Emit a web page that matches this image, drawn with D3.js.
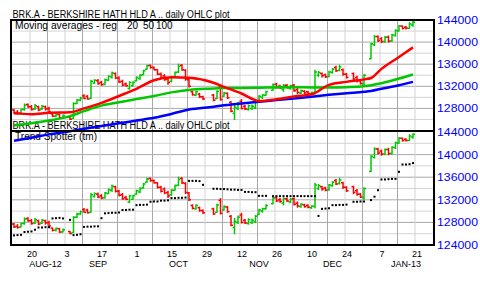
<!DOCTYPE html>
<html>
<head>
<meta charset="utf-8">
<script src="https://cdn.jsdelivr.net/npm/d3@7"></script>
<style>
    body { margin: 0; background: #fff; }
    text { font-family: "Liberation Sans", Arial, sans-serif; }
</style>
</head>
<body>
<svg id="chart" width="480" height="282"></svg>
<script>
// trading days shown (weekday axis, holidays left empty)
const dates = [
    "2012-08-13","2012-08-14","2012-08-15","2012-08-16","2012-08-17","2012-08-20","2012-08-21","2012-08-22","2012-08-23","2012-08-24",
    "2012-08-27","2012-08-28","2012-08-29","2012-08-30","2012-08-31","2012-09-04","2012-09-05","2012-09-06","2012-09-07","2012-09-10",
    "2012-09-11","2012-09-12","2012-09-13","2012-09-14","2012-09-17","2012-09-18","2012-09-19","2012-09-20","2012-09-21","2012-09-24",
    "2012-09-25","2012-09-26","2012-09-27","2012-09-28","2012-10-01","2012-10-02","2012-10-03","2012-10-04","2012-10-05","2012-10-08",
    "2012-10-09","2012-10-10","2012-10-11","2012-10-12","2012-10-15","2012-10-16","2012-10-17","2012-10-18","2012-10-19","2012-10-22",
    "2012-10-23","2012-10-24","2012-10-25","2012-10-26","2012-10-31","2012-11-01","2012-11-02","2012-11-05","2012-11-06","2012-11-07",
    "2012-11-08","2012-11-09","2012-11-12","2012-11-13","2012-11-14","2012-11-15","2012-11-16","2012-11-19","2012-11-20","2012-11-21",
    "2012-11-23","2012-11-26","2012-11-27","2012-11-28","2012-11-29","2012-11-30","2012-12-03","2012-12-04","2012-12-05","2012-12-06",
    "2012-12-07","2012-12-10","2012-12-11","2012-12-12","2012-12-13","2012-12-14","2012-12-17","2012-12-18","2012-12-19","2012-12-20",
    "2012-12-21","2012-12-24","2012-12-26","2012-12-27","2012-12-28","2012-12-31","2013-01-02","2013-01-03","2013-01-04","2013-01-07",
    "2013-01-08","2013-01-09","2013-01-10","2013-01-11","2013-01-14","2013-01-15","2013-01-16","2013-01-17","2013-01-18"
];
const opens = [
    127700,127300,127200,127800,128700,128300,127900,128300,127900,128300,
    128000,127000,126600,126900,126300,126400,126200,128900,129500,130300,
    130200,129800,132600,133000,132700,132400,133100,133700,134300,133500,
    132900,132400,131600,132100,133000,133400,134100,135100,135800,135400,
    135000,134200,133900,133300,132900,133700,134600,135800,134900,133200,
    131000,130400,130600,130100,130400,129800,131900,130200,130700,129100,
    127100,128000,129300,128400,127800,128000,128100,129400,130000,130400,
    131300,132400,132000,131400,132200,131600,132200,131400,130800,131100,
    131000,130600,130800,134000,134300,134100,133800,134500,135400,134900,
    135000,134200,134300,133600,133000,132400,137000,139500,141000,140600,
    140100,140900,140200,141200,142000,142900,142700,142500,143100
];
const highs = [
    127900,127700,127900,128900,128900,128600,128800,128500,128600,128500,
    128300,127100,127100,127000,126900,126500,129100,129700,130100,130550,
    130400,133200,133300,133300,133000,133400,134000,134700,134500,133800,
    133200,132700,132900,132900,133800,134200,135000,135900,135900,135600,
    135100,134500,134200,133600,133900,134700,136100,136000,135100,133400,
    131200,131200,130800,130300,130600,131300,132300,131000,130900,129300,
    128800,129200,129700,128600,128700,128700,129300,130400,130600,131200,
    132500,132600,132300,132400,132400,132300,132400,131700,131400,131300,
    131200,131000,135000,134800,134500,134300,134800,135300,135700,135900,
    135200,134400,134500,133900,133200,134200,139900,141300,141200,140900,
    141100,141200,141500,142300,143100,143000,142900,143600,143800
];
const lows = [
    127000,126900,127100,127600,128100,127600,127700,127500,127700,127600,
    127200,126400,126400,126100,126200,125900,126100,128800,129300,129700,
    129600,129700,132400,132300,132100,132200,133000,133400,133300,132600,
    132000,131900,131400,132000,132900,133200,134000,135000,135200,134900,
    134000,133300,133000,132300,132700,133600,134400,134800,133000,131800,
    130300,130300,129900,129500,129300,129700,129400,130100,129700,127300,
    125900,127700,127800,127700,127600,127700,127900,129300,129700,130300,
    131200,131600,131500,131000,131600,131400,131000,130600,130600,130600,
    130500,130400,130500,133700,133600,133500,133600,134300,134600,134700,
    133900,133400,133000,132700,132300,132000,136900,139300,140000,139800,
    139900,139900,140000,141000,141900,142300,142300,142400,142800
];
const closes = [
    127200,127100,127800,128600,128300,127800,128500,127700,128400,127900,
    127400,126600,126900,126300,126700,126050,128900,129500,129900,129800,
    129700,132900,133100,132500,132300,133200,133800,134400,133500,132800,
    132200,132100,132700,132700,133600,134000,134800,135700,135400,135000,
    134200,133500,133200,132700,133700,134500,135600,135000,133300,132000,
    130500,131000,130100,129700,129500,131100,129600,130800,129900,127500,
    128200,128900,128000,127900,128500,128400,129100,130200,130400,131000,
    132300,131800,131700,132200,131800,132100,131200,130900,131200,130800,
    130700,130900,134600,134500,133900,133700,134600,135100,134800,135500,
    134200,133600,133300,133000,132500,134000,139700,141000,140300,140100,
    140900,140200,141300,142100,142900,142500,142500,143300,143600
];
// Trend Spotter dots, one per trading day
const trendSpotter = [
    125700,125750,125800,126300,126350,126400,126700,127100,127100,127150,
    127150,128700,128750,128800,128700,128450,125750,125800,125900,127200,
    127250,127250,127300,127300,128750,129600,129650,129700,129700,129750,
    130200,130200,130250,130250,131050,131100,131100,131150,131650,131700,
    131700,131850,131850,131900,132300,132300,132350,132350,132400,135350,
    135350,135350,135300,134650,133950,133950,133900,133900,133850,133800,
    133800,133750,133750,133400,133400,133350,133350,132700,132700,132700,
    132650,132650,132650,132650,132650,132650,132650,132650,132650,132650,
    132650,132650,132650,129150,130400,130450,130500,131050,131050,131100,
    131100,131150,131650,131650,131700,131700,131950,132550,133700,135600,
    135600,135650,135700,135700,136950,138250,138250,138300,138500
];
// moving averages
const maDates = [
    "2012-08-13","2012-08-20","2012-08-27","2012-09-04","2012-09-10","2012-09-17","2012-09-24","2012-10-01",
    "2012-10-08","2012-10-15","2012-10-22","2012-10-31","2012-11-05","2012-11-12","2012-11-19","2012-11-26",
    "2012-12-03","2012-12-10","2012-12-17","2012-12-24","2012-12-31","2013-01-02","2013-01-07","2013-01-14","2013-01-18"
];
const ma20 = [127100,126950,127200,127300,128000,129000,130250,131550,133100,133650,133550,132650,131900,130700,129350,129650,130150,130550,132250,132800,133250,133500,135150,137300,139050];
const ma50 = [124900,125300,125800,126600,127500,128500,129100,129700,130250,130900,131350,131600,131700,131700,131750,131800,131850,131800,131800,131850,132000,132200,132550,133400,134150];
const ma100 = [122150,122700,123300,123850,124300,124800,125300,125800,126300,127000,127800,128300,128550,128900,129200,129500,129800,130100,130450,130750,131000,131150,131550,132200,132800];

const topTicks = [144000, 140000, 136000, 132000, 128000];
const bottomTicks = [144000, 140000, 136000, 132000, 128000, 124000];
const gridValues = [142000, 140000, 138000, 136000, 134000, 132000, 130000, 128000, 126000];
const dayTicks = ["2012-08-20","2012-09-03","2012-09-17","2012-10-01","2012-10-15","2012-10-29","2012-11-12","2012-11-26","2012-12-10","2012-12-24","2013-01-07","2013-01-21"];
const monthNames = ["AUG-12", "SEP", "OCT", "NOV", "DEC", "JAN-13"];
const monthDates = ["2012-08-24","2012-09-14","2012-10-17","2012-11-19","2012-12-18","2013-01-16"];
const title = "BRK.A - BERKSHIRE HATH HLD A .. daily OHLC plot";

const green = "#00c800", red = "#ff0000", blue = "#0000ff";
const left = 11, right = 434, top1 = 20, mid = 131, bottom = 245;

const start = new Date(2012, 7, 13);
function weekday(s) {
    let p = s.split("-");
    let d = new Date(+p[0], +p[1] - 1, +p[2]);
    let days = Math.round((d - start) / 86400000);
    return Math.floor(days / 7) * 5 + Math.min(days % 7, 5);
}

let svg = d3.select("#chart");

let x = d3.scaleLinear().domain([0, 114]).range([14, 413]);
let yTop = d3.scaleLinear().domain([124000, 144000]).range([130.5, top1]);
let yBot = d3.scaleLinear().domain([124000, 144000]).range([bottom, 132]);

// grid
let mondays = d3.timeMonday.range(new Date(2012, 7, 20), new Date(2013, 0, 22));
function grid(y, y0, y1) {
    let g = svg.append("g");
    g.selectAll("line.h")
        .data(gridValues)
        .enter().append("line")
        .attr("x1", left).attr("x2", right)
        .attr("y1", d => y(d)).attr("y2", d => y(d))
        .attr("stroke", d => d % 4000 === 0 ? "#a8a8a8" : "#d4d4d4")
        .attr("stroke-width", 1);
    g.selectAll("line.v")
        .data(mondays)
        .enter().append("line")
        .attr("x1", d => x(weekday(d3.timeFormat("%Y-%m-%d")(d))) - 1.5)
        .attr("x2", d => x(weekday(d3.timeFormat("%Y-%m-%d")(d))) - 1.5)
        .attr("y1", y0).attr("y2", y1)
        .attr("stroke", (d, i) => i % 2 ? "#a8a8a8" : "#d4d4d4")
        .attr("stroke-width", 1);
}
grid(yTop, top1, mid);
grid(yBot, mid, bottom);

// OHLC bars
function bars(y) {
    let g = svg.append("g");
    let b = g.selectAll("g.bar")
        .data(dates)
        .enter().append("g")
        .attr("stroke", (d, i) => closes[i] >= opens[i] ? green : red)
        .attr("stroke-width", 1.5);
    b.append("line")
        .attr("x1", d => x(weekday(d))).attr("x2", d => x(weekday(d)))
        .attr("y1", (d, i) => y(highs[i])).attr("y2", (d, i) => y(lows[i]));
    b.append("line")
        .attr("x1", d => x(weekday(d)) - 2).attr("x2", d => x(weekday(d)))
        .attr("y1", (d, i) => y(opens[i])).attr("y2", (d, i) => y(opens[i]));
    b.append("line")
        .attr("x1", d => x(weekday(d))).attr("x2", d => x(weekday(d)) + 2)
        .attr("y1", (d, i) => y(closes[i])).attr("y2", (d, i) => y(closes[i]));
}
bars(yTop);
bars(yBot);

// trend spotter dots
svg.append("g").selectAll("rect")
    .data(dates)
    .enter().append("rect")
    .attr("x", d => x(weekday(d)) - 1)
    .attr("y", (d, i) => yBot(trendSpotter[i]) - 1)
    .attr("width", 2).attr("height", 2)
    .attr("fill", "#000");

// texts
function label(tx, ty, s, len) {
    let t = svg.append("text")
        .attr("x", tx).attr("y", ty)
        .attr("font-size", 10)
        .attr("fill", "#000")
        .text(s);
    if (len) t.attr("textLength", len).attr("lengthAdjust", "spacingAndGlyphs");
    return t;
}
label(12.5, 17.5, title, 217);
label(15, 28.5, "Moving averages - reg", 102);
label(127, 28.5, "20");
label(143, 28.5, "50");
label(156, 28.5, "100");
label(12.5, 128.5, title, 217);
label(15, 139.5, "Trend Spotter (tm)", 82);

// moving averages
let line = d3.line()
    .x(d => x(weekday(d[0])))
    .y(d => yTop(d[1]))
    .curve(d3.curveMonotoneX);
[[ma100, blue], [ma50, green], [ma20, red]].forEach(function (m) {
    svg.append("path")
        .attr("d", line(maDates.map((d, i) => [d, m[0][i]])))
        .attr("fill", "none")
        .attr("stroke", m[1])
        .attr("stroke-width", 2.5);
});

// frames
svg.append("rect")
    .attr("x", left).attr("y", top1)
    .attr("width", right - left).attr("height", bottom - top1)
    .attr("fill", "none").attr("stroke", "#000").attr("stroke-width", 2);
svg.append("line")
    .attr("x1", left).attr("x2", right).attr("y1", mid).attr("y2", mid)
    .attr("stroke", "#000").attr("stroke-width", 2);

// right price axes
function priceAxis(y, ticks) {
    let a = svg.append("g")
        .attr("transform", "translate(" + right + ",0)")
        .call(d3.axisRight(y).tickValues(ticks).tickSize(0).tickPadding(3).tickFormat(d3.format("d")));
    a.select(".domain").remove();
    a.selectAll("text")
        .attr("fill", blue)
        .attr("font-size", 11)
        .attr("font-family", "Liberation Sans, Arial, sans-serif")
        .attr("textLength", 41)
        .attr("lengthAdjust", "spacingAndGlyphs");
}
priceAxis(yTop, topTicks);
priceAxis(yBot, bottomTicks);

// date axis
let xAxis = svg.append("g")
    .attr("transform", "translate(0," + bottom + ")")
    .call(d3.axisBottom(x)
        .tickValues(dayTicks.map(weekday))
        .tickSize(0).tickPadding(5)
        .tickFormat((d, i) => +dayTicks[i].slice(8)));
xAxis.select(".domain").remove();
xAxis.selectAll("text")
    .attr("fill", "#000")
    .attr("dy", null)
    .attr("y", 11.5)
    .attr("font-size", 9)
    .attr("font-family", "Liberation Sans, Arial, sans-serif");

svg.append("g").selectAll("text")
    .data(monthNames)
    .enter().append("text")
    .attr("x", (d, i) => x(weekday(monthDates[i])))
    .attr("y", 266.5)
    .attr("text-anchor", "middle")
    .attr("font-size", 9)
    .attr("fill", "#000")
    .text(d => d);
</script>
</body>
</html>
